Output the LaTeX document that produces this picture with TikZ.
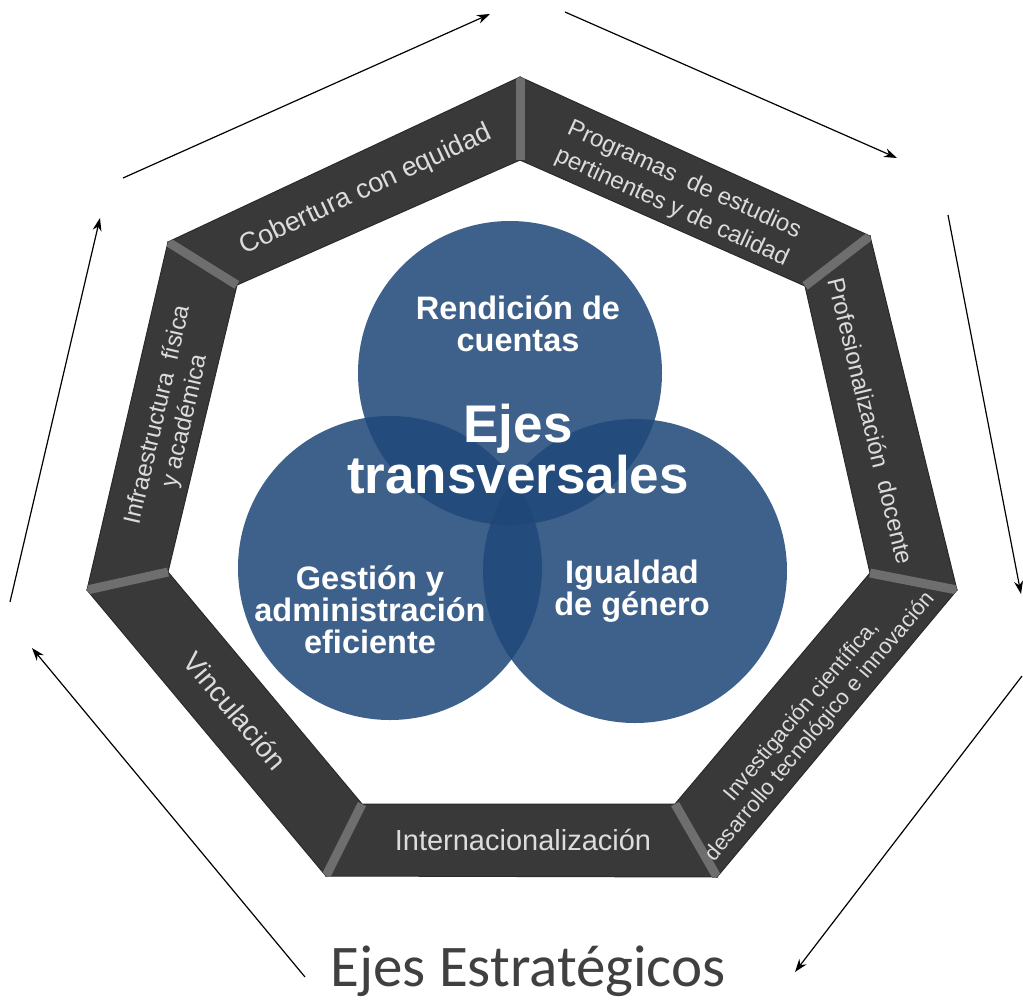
\documentclass[tikz,border=0pt]{standalone}
\usepackage{fontspec}
\setmainfont{Liberation Sans}
\newfontfamily\calib{Carlito}
\usetikzlibrary{arrows.meta}
\definecolor{band}{HTML}{393939}
\definecolor{bandedge}{HTML}{2A2A2A}
\definecolor{joint}{HTML}{6E6E6E}
\definecolor{bandtxt}{HTML}{DCDCDC}
\definecolor{blu}{RGB}{31,72,121}
\definecolor{ejes}{HTML}{404040}
\tikzset{
  bandfill/.style={fill=band, draw=bandedge, line width=1pt, line join=miter},
  jointline/.style={draw=joint, line width=9pt},
  bandlbl/.style={text=bandtxt, align=center, inner sep=0pt},
  venn/.style={circle, fill=blu, fill opacity=0.86, minimum size=304pt, inner sep=0pt},
  venntxt/.style={text=white, align=center, inner sep=0pt, font=\bfseries\fontsize{32.5}{32}\selectfont},
  cyc/.style={-{Stealth[length=13pt,width=9pt]}, line width=1.2pt, draw=black},
}
\begin{document}
\begin{tikzpicture}[x=1pt,y=-1pt]
\useasboundingbox (0,0) rectangle (1023,1002);
\fill[white] (0,0) rectangle (1023,1002);
% heptagon vertices
\coordinate (o1) at (520,77);  \coordinate (o2) at (870,236);
\coordinate (o3) at (957,590); \coordinate (o4) at (717,877);
\coordinate (o5) at (326,876); \coordinate (o6) at (87,590);
\coordinate (o7) at (168,242);
\coordinate (i1) at (520,160); \coordinate (i2) at (805,286);
\coordinate (i3) at (870,573); \coordinate (i4) at (675,804);
\coordinate (i5) at (362,804); \coordinate (i6) at (168,572);
\coordinate (i7) at (237,285);
\foreach \a/\b in {1/2,2/3,3/4,4/5,5/6,6/7,7/1}
  \filldraw[bandfill] (o\a) -- (o\b) -- (i\b) -- (i\a) -- cycle;
\begin{scope}
  \clip (o1) -- (o2) -- (o3) -- (o4) -- (o5) -- (o6) -- (o7) -- cycle;
  \foreach \a in {1,...,7} \draw[jointline] (o\a) -- (i\a);
\end{scope}
% band labels
\node[bandlbl, rotate=25, font=\fontsize{27}{29}\selectfont] (b1) at (366,190) {Cobertura con equidad};
\node[bandlbl, rotate=-24.4, font=\fontsize{24}{30}\selectfont] (b2) at (678,194) {Programas\ \ de estudios\\pertinentes y de calidad};
\node[bandlbl, rotate=-76.2, font=\fontsize{24}{28}\selectfont] (b3) at (871,421) {Profesionalización\ \ docente};
\node[bandlbl, rotate=50, font=\fontsize{22}{24}\selectfont] (b4) at (811,719) {Investigación científica,\\desarrollo tecnológico e innovación};
\node[bandlbl, font=\fontsize{29}{30}\selectfont] (b5) at (523,840) {Internacionalización};
\node[bandlbl, rotate=-50, font=\fontsize{28}{30}\selectfont] (b6) at (235,711) {Vinculación};
\node[bandlbl, rotate=77, font=\fontsize{24}{28}\selectfont] (b7) at (172,418) {Infraestructura\ \ física\\y académica};
% Venn circles
\node[venn] (c1) at (510,373) {};
\node[venn] (c2) at (390,568) {};
\node[venn] (c3) at (635,571) {};
\node[venntxt] (t1) at (518,324) {Rendición de\\cuentas};
\node[venntxt, font=\bfseries\fontsize{53}{48}\selectfont] (t0) at (518,449) {Ejes\\transversales};
\node[venntxt] (t2) at (370,610) {Gestión y\\administración\\eficiente};
\node[venntxt] (t3) at (632,591) {Igualdad\\de género};
% cycle arrows
\coordinate (p1) at (123,178); \coordinate (q1) at (490,14);
\coordinate (p2) at (565,12);  \coordinate (q2) at (897,158);
\coordinate (p3) at (948,215); \coordinate (q3) at (1021,594);
\coordinate (p4) at (1022,676); \coordinate (q4) at (795,972);
\coordinate (p5) at (305,977); \coordinate (q5) at (32,648);
\coordinate (p6) at (10,602);  \coordinate (q6) at (100,218);
\foreach \k in {1,...,6} \draw[cyc] (p\k) -- (q\k);
% title
\node[text=ejes, font=\calib\fontsize{59}{60}\selectfont, anchor=base, inner sep=0pt] (title) at (528,986) {Ejes Estratégicos};
\end{tikzpicture}
\end{document}
